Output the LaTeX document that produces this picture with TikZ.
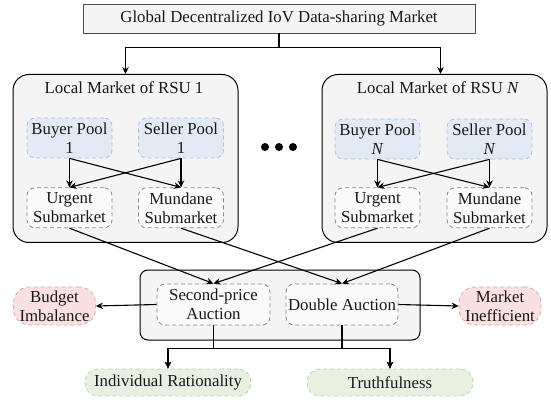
\documentclass[tikz,border=0pt]{standalone}
\usepackage{fontspec}
\setmainfont{Liberation Serif}
\usetikzlibrary{arrows.meta,calc,positioning}
\definecolor{mktfill}{HTML}{F4F4F4}
\definecolor{poolfill}{HTML}{E2EAF6}
\definecolor{poolline}{HTML}{A9C2E6}
\definecolor{subfill}{HTML}{FAFAFA}
\definecolor{subline}{HTML}{8A8A8A}
\definecolor{badfill}{HTML}{F9E1E1}
\definecolor{badline}{HTML}{E3A3A3}
\definecolor{goodfill}{HTML}{E7F0E1}
\definecolor{goodline}{HTML}{B8D6A6}

\begin{document}
\begin{tikzpicture}[x=1pt,y=-1pt,>={Stealth[length=7pt,width=6.5pt]},line width=1.1pt,
    font=\fontsize{16.8}{19}\selectfont,text=black!90,
    topbox/.style={draw=black!70,line width=0.8pt,fill=mktfill,minimum width=392pt,minimum height=29pt,inner sep=0pt},
    market/.style={draw=black,line width=1pt,fill=mktfill,rounded corners=16pt,minimum width=225pt,minimum height=168pt},
    pool/.style={draw=poolline,dash pattern=on 4pt off 3pt,line width=0.8pt,fill=poolfill,rounded corners=8pt,
                 minimum width=85pt,minimum height=40pt,align=center,inner sep=1pt},
    sub/.style={pool,draw=subline,fill=subfill},
    bad/.style={pool,draw=badline,fill=badfill,rounded corners=16pt,minimum width=82pt,minimum height=38pt},
    good/.style={pool,draw=goodline,fill=goodfill,rounded corners=13pt,minimum width=166pt,minimum height=27pt},
    bus/.style={to path={-- ++(0,23) -| (\tikztotarget)}}]
    \useasboundingbox (0,0) rectangle (551,403);

    \node[topbox]  (G)  at (279,18.5)  {Global Decentralized IoV Data-sharing Market};
    \node[market]  (M1) at (125.5,158.5) {};
    \node[market]  (MN) at (434.5,158.5) {};
    \node          (T1) at (124,88)    {Local Market of RSU 1};
    \node          (TN) at (438,88)    {Local Market of RSU \textit{N}};

    % local market 1
    \node[pool]    (B1) at (69.5,138)  {Buyer Pool\\1};
    \node[pool]    (S1) at (181,138)   {Seller Pool\\1};
    \node[sub]     (U1) [below=29pt of B1] {Urgent\\Submarket};
    \node[sub]     (D1) [below=29pt of S1] {Mundane\\Submarket};
    % local market N
    \node[pool]    (BN) at (377.5,139) {Buyer Pool\\\textit{N}};
    \node[pool]    (SN) at (489.5,139) {Seller Pool\\\textit{N}};
    \node[sub]     (UN) [below=28pt of BN] {Urgent\\Submarket};
    \node[sub]     (DN) [below=28pt of SN] {Mundane\\Submarket};

    \foreach \i in {0,1,2}
        \fill (265+14*\i,147) circle (4);

    % auctions
    \node[draw=black,line width=1pt,fill=mktfill,rounded corners=8pt,minimum width=280pt,minimum height=70pt]
                   (A)  at (280,305)   {};
    \node[sub,minimum width=113pt,minimum height=41pt] (SP) at (213.5,304.5) {Second-price\\Auction};
    \node[sub,minimum width=112pt,minimum height=41pt] (DA) at (342,304.5)   {Double Auction};
    \node[bad]     (BI) at (54.5,306)  {Budget\\Imbalance};
    \node[bad]     (MI) at (500,306)   {Market\\Inefficient};
    \node[good]    (IR) at (168,382.5) {Individual Rationality};
    \node[good]    (TR) at (390,382.5) {Truthfulness};

    \draw[->] (G.south) -- ++(0,14.5) -| (M1.north);
    \draw[->] (G.south) -- ++(0,14.5) -| ([xshift=6pt]MN.north);
    \path[->] (B1.south) edge (U1.north)
                         edge (D1.north)
              (S1.south) edge (U1.north)
                         edge (D1.north)
              (BN.south) edge (UN.north)
                         edge (DN.north)
              (SN.south) edge (UN.north)
                         edge (DN.north);
    \path[->] (U1.south) edge (SP.north)
              (UN.south) edge (SP.north)
              (D1.south) edge (DA.north)
              (DN.south) edge (DA.north)
              (SP.west)  edge (BI.east)
              (DA.east)  edge (MI.west);
    \path[->] (SP.south) edge[bus] (IR.north)
                         edge[bus] (TR.north)
              (DA.south) edge[bus] (IR.north)
                         edge[bus] (TR.north);
\end{tikzpicture}
\end{document}
